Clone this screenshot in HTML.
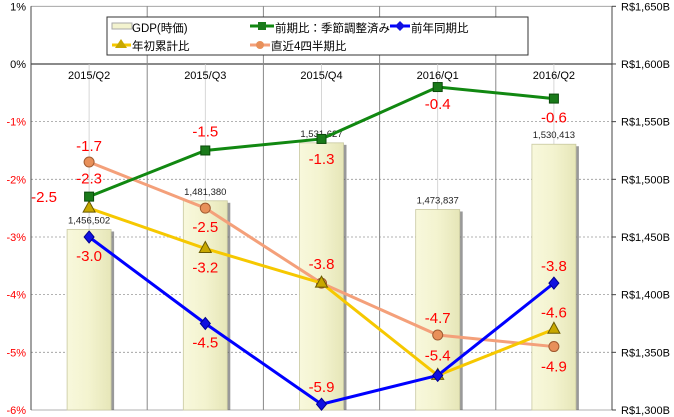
<!DOCTYPE html>
<html><head><meta charset="utf-8"><style>
html,body{margin:0;padding:0;background:#fff;}
svg{display:block;font-family:"Liberation Sans","Noto Sans CJK JP",sans-serif;}
</style></head><body>
<svg id="c" width="674" height="417" xmlns="http://www.w3.org/2000/svg">
<defs>
<linearGradient id="barg" x1="0" x2="1"><stop offset="0" stop-color="#f8f8dc"/><stop offset="0.5" stop-color="#f3f3cf"/><stop offset="1" stop-color="#e6e6b8"/></linearGradient>
</defs>
</svg>
<script>
const categories=["2015/Q2","2015/Q3","2015/Q4","2016/Q1","2016/Q2"];
const gdp=[1456502,1481380,1531627,1473837,1530413];
const qoq=[-2.3,-1.5,-1.3,-0.4,-0.6];
const yoy=[-3.0,-4.5,-5.9,-5.4,-3.8];
const ytd=[-2.5,-3.2,-3.8,-5.4,-4.6];
const last4=[-1.7,-2.5,-3.8,-4.7,-4.9];
const leftTicks=[1,0,-1,-2,-3,-4,-5,-6];
const rightTicks=[1650,1600,1550,1500,1450,1400,1350,1300];

const svg=document.getElementById('c');
const NS="http://www.w3.org/2000/svg";
const X0=31,X1=612,Y0=6.3,Y1=410;
const cw=(X1-X0)/categories.length;
const xc=i=>X0+cw*(i+0.5);
const yL=v=>Y0+(1-v)/7*(Y1-Y0);
const yR=v=>Y1-(v/1000-1300)/350*(Y1-Y0);
function mk(tag,attrs,parent){const e=document.createElementNS(NS,tag);for(const k in attrs)e.setAttribute(k,attrs[k]);(parent||svg).appendChild(e);return e;}

leftTicks.forEach(t=>{
  const g=mk('line',{x1:X0,x2:X1,y1:yL(t),y2:yL(t),stroke:t===0?'#444':'#999','stroke-width':t===0?1.2:0.8,'stroke-dasharray':t===0||t===1||t===-6?'':'2,2'});
  
  
});
for(let i=0;i<=categories.length;i++){
  const l=mk('line',{x1:X0+cw*i,x2:X0+cw*i,y1:Y0,y2:Y1,stroke:(i===0||i===categories.length)?'#444':'#888','stroke-width':1});
  
  
}
for(let i=0;i<categories.length;i++){
  const l=mk('line',{x1:xc(i),x2:xc(i),y1:yL(0),y2:Y1,stroke:'#ccc','stroke-width':0.8});
  
  
}
leftTicks.forEach(t=>{
  const e=mk('text',{x:26,y:yL(t)+4,'text-anchor':'end','font-size':11,fill:t<0?'#f00':'#000'});
  e.textContent=t+'%';
  
  
});
rightTicks.forEach(t=>{
  const e=mk('text',{x:621,y:yR(t*1000)+4,'font-size':11,fill:'#000'});
  e.textContent='R$1,'+String(t-1000).padStart(3,'0')+'B';
  
  
  const tk=mk('line',{x1:X1,x2:X1+4,y1:yR(t*1000),y2:yR(t*1000),stroke:'#444'});
  
  
});
gdp.forEach((v,i)=>{
  const w=44,x=xc(i)-w/2,y=yR(v);
  const s=mk('rect',{x:x+3,y:y+2,width:w,height:Y1-y-2,fill:'#555',opacity:0.6});
  
  
  const r=mk('rect',{x:x,y:y,width:w,height:Y1-y,fill:'url(#barg)',stroke:'#c8c8a0','stroke-width':0.8});
  
  
  const t=mk('text',{x:xc(i),y:y-6,'text-anchor':'middle','font-size':9.5,fill:'#222'});
  t.textContent=v.toLocaleString('en-US');
  
  
});
categories.forEach((c,i)=>{
  const t=mk('text',{x:xc(i),y:yL(0)+15,'text-anchor':'middle','font-size':11,fill:'#000'});
  t.textContent=c;
  
  
});
function series(vals,color,marker,name){
  const p=mk('polyline',{points:vals.map((v,i)=>xc(i)+','+yL(v)).join(' '),fill:'none',stroke:color,'stroke-width':3});
  
  
  vals.forEach((v,i)=>{
    const x=xc(i),y=yL(v);let m;
    if(marker==='sq')m=mk('rect',{x:x-4.5,y:y-4.5,width:9,height:9,fill:'#1a7a1a',stroke:'#0a4a0a'});
    else if(marker==='dia')m=mk('polygon',{points:`${x},${y-6} ${x+5},${y} ${x},${y+6} ${x-5},${y}`,fill:'#1010e0',stroke:'#000090'});
    else if(marker==='tri')m=mk('polygon',{points:`${x},${y-7} ${x+6},${y+4} ${x-6},${y+4}`,fill:'#c8a800',stroke:'#6a5a00'});
    else m=mk('circle',{cx:x,cy:y,r:5,fill:'#e8905a',stroke:'#a05a30'});
    
    
  });
}
series(last4,'#f4a07a','circ','last4q');
series(ytd,'#f6c800','tri','ytd');
series(yoy,'#0000ff','dia','yoy');
series(qoq,'#118811','sq','qoq');
const labelSpec=[[qoq,0,0,-13],[qoq,1,0,-14],[qoq,2,0,25],[qoq,3,0,22],[qoq,4,0,24],
[yoy,0,0,24],[yoy,1,0,24],[yoy,2,0,-12],[yoy,3,0,-15],[yoy,4,0,-12],
[ytd,0,-45,-6],[ytd,1,0,24],[ytd,2,0,-14],[ytd,4,0,-12],
[last4,0,0,-11],[last4,1,0,24],[last4,3,0,-12],[last4,4,0,25]];
labelSpec.forEach(([arr,i,dx,dy])=>{
  const t=mk('text',{x:xc(i)+dx,y:yL(arr[i])+dy,'text-anchor':'middle','font-size':15,fill:'#f00'});
  t.textContent=arr[i].toFixed(1);
  
  
});
</script>
<svg style="position:absolute;left:0;top:0" width="674" height="417">
<g font-family="Liberation Sans, Noto Sans CJK JP, sans-serif" font-size="11.5">
<rect x="107" y="17" width="421" height="38" fill="#fff" stroke="#333" stroke-width="1"/>
<g><rect x="112" y="23" width="20" height="6" fill="#f3f3cf" stroke="#aaa"/><text x="132" y="32">GDP(時価)</text></g>
<g><line x1="250" x2="274" y1="26" y2="26" stroke="#118811" stroke-width="3"/><rect x="258" y="22" width="8" height="8" fill="#1a7a1a"/><text x="275" y="32">前期比：季節調整済み</text></g>
<g><line x1="390" x2="410" y1="26" y2="26" stroke="#0000ff" stroke-width="3"/><polygon points="400,21 405,26 400,31 395,26" fill="#1010e0"/><text x="411" y="32">前年同期比</text></g>
<g><line x1="112" x2="131" y1="45" y2="45" stroke="#f6c800" stroke-width="3"/><polygon points="121,39 127,48 115,48" fill="#c8a800"/><text x="132" y="50">年初累計比</text></g>
<g><line x1="250" x2="270" y1="45" y2="45" stroke="#f4a07a" stroke-width="3"/><circle cx="260" cy="45" r="4" fill="#e8905a"/><text x="271" y="50">直近4四半期比</text></g>
</g></svg>
</body></html>
